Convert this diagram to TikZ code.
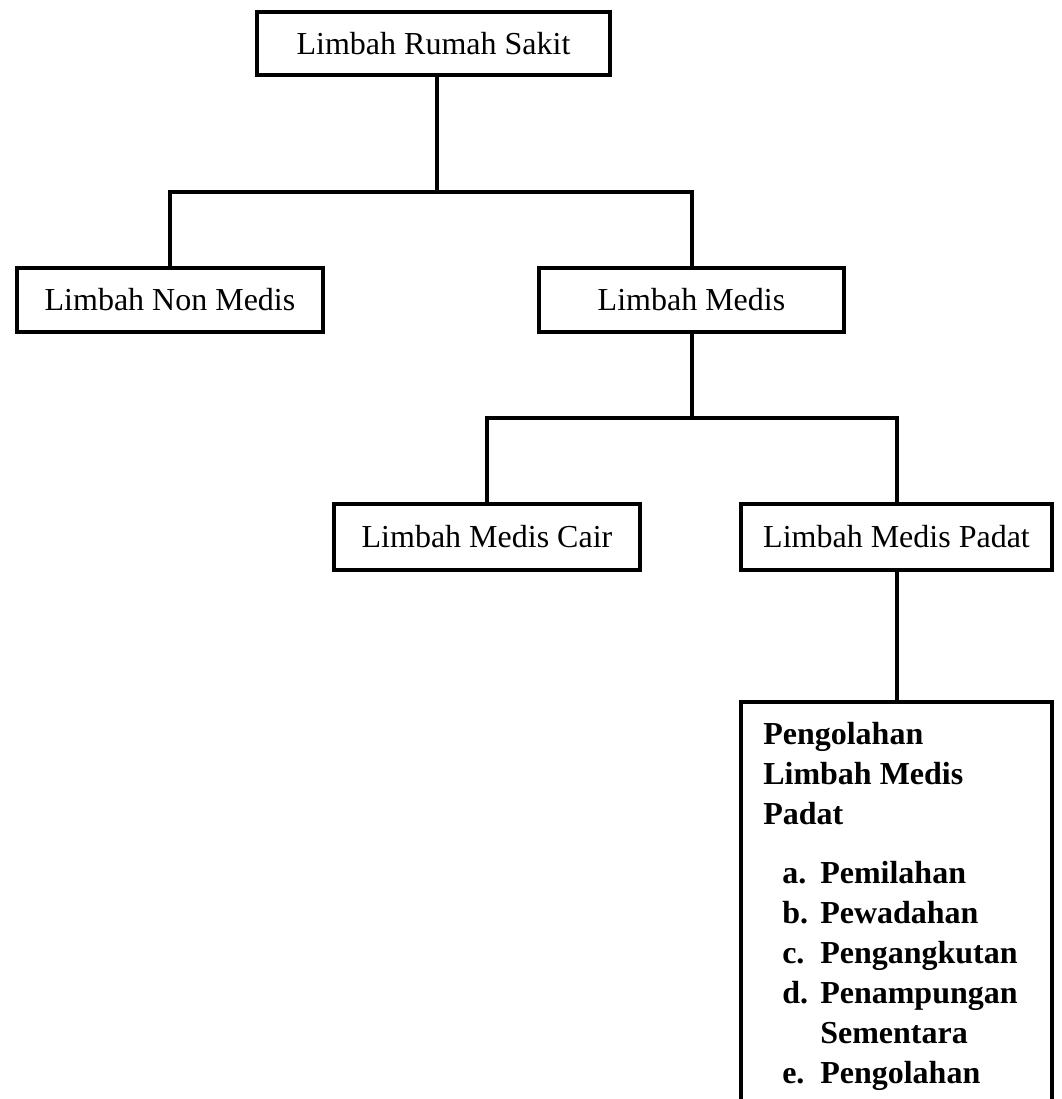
\documentclass[tikz,border=0pt]{standalone}
\usepackage{fontspec}
\setmainfont{Liberation Serif}
\begin{document}
\begin{tikzpicture}[x=0.75pt,y=-0.75pt,
  box/.style={draw, line width=3pt, rectangle, inner sep=0pt,
    font=\fontsize{24pt}{30pt}\selectfont},
  conn/.style={line width=3pt, line join=miter},
  txt/.style={anchor=base west, inner sep=0pt,
    font=\fontsize{24pt}{30pt}\selectfont\bfseries}]
\useasboundingbox (0,0) rectangle (1062,1099);
\fill[white] (0,0) rectangle (1062,1099);

\node[box, minimum width={353*0.75pt}, minimum height={63*0.75pt}] (top) at (433.5,43.5) {Limbah Rumah Sakit};
\node[box, minimum width={306*0.75pt}, minimum height={64*0.75pt}] (nonmed) at (170,299.5) {Limbah Non Medis};
\node[box, minimum width={305*0.75pt}, minimum height={64*0.75pt}] (med) at (691.5,299.5) {Limbah Medis};
\node[box, minimum width={306*0.75pt}, minimum height={66*0.75pt}] (cair) at (487,537) {Limbah Medis Cair};
\node[box, minimum width={311*0.75pt}, minimum height={66*0.75pt}] (padat) at (896.5,537) {Limbah Medis Padat};
\node[box, minimum width={311*0.75pt}, minimum height={428*0.75pt}] (proc) at (896.5,916) {};

\node[txt] (title) at (763,744) {\begin{tabular}[t]{@{}l@{}}Pengolahan\\ Limbah Medis\\ Padat\end{tabular}};
\node[txt] (list) at (782,883) {\begin{tabular}[t]{@{}l@{}}
\makebox[28.5pt][l]{a.}Pemilahan\\
\makebox[28.5pt][l]{b.}Pewadahan\\
\makebox[28.5pt][l]{c.}Pengangkutan\\
\makebox[28.5pt][l]{d.}Penampungan\\
\hspace*{28.5pt}Sementara\\
\makebox[28.5pt][l]{e.}Pengolahan
\end{tabular}};

\coordinate (j1) at (437,192);
\coordinate (j2) at (691.5,418);

\draw[conn] (top.south -| j1) -- (j1);
\draw[conn] (nonmed.north) |- (j1) -| (med.north);
\draw[conn] (med.south) -- (j2);
\draw[conn] (cair.north) |- (j2) -| (padat.north);
\draw[conn] (padat.south) -- (proc.north);
\end{tikzpicture}
\end{document}
